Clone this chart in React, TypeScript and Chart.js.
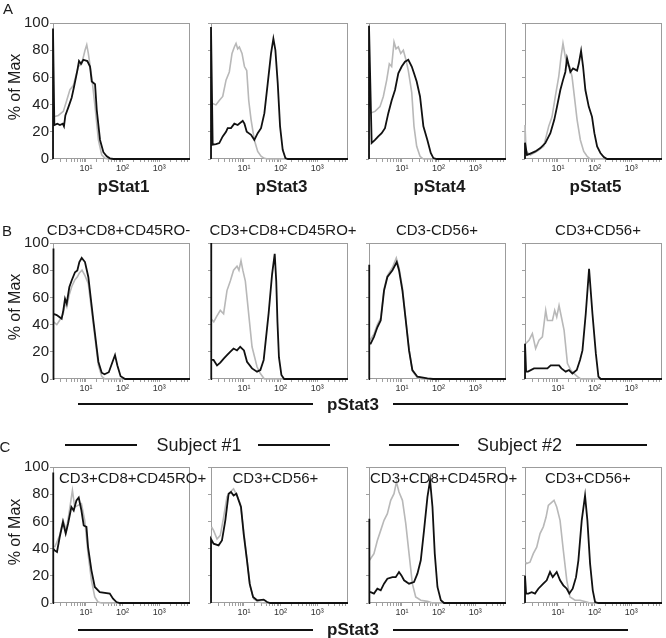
import React, { useEffect, useRef } from "react";
import { Chart, registerables } from "chart.js";
Chart.register(...registerables);

type Pt = [number, number];

const FONT = '"Liberation Sans", Arial, Helvetica, sans-serif';
Chart.defaults.font.family = FONT;

const X_MIN = 1.26;
const X_MAX = 6900;
const Y_TICKS = [0, 20, 40, 60, 80, 100];
const X_DECADE_TICKS = [10, 100, 1000];
const X_DECADE_LABELS = ["10¹", "10²", "10³"];
const X_MINOR_MULT = [1, 2, 3, 4, 5, 6, 7, 8, 9];
const X_MINOR_BASE = [1, 10, 100, 1000];

const ROW_A_TITLES = ["pStat1", "pStat3", "pStat4", "pStat5"];
const ROW_B_TITLES = ["CD3+CD8+CD45RO-", "CD3+CD8+CD45RO+", "CD3-CD56+", "CD3+CD56+"];
const ROW_C_TITLES = ["CD3+CD8+CD45RO+", "CD3+CD56+", "CD3+CD8+CD45RO+", "CD3+CD56+"];
const SUBJECTS = ["Subject #1", "Subject #2"];

// ---- Row A ----
const a1Black: Pt[] = [[1.26,0],[1.26,96],[1.37,25],[1.65,26],[1.95,25],[2.32,26],[2.51,24],[2.74,32],[3.3,38],[4.07,45],[4.72,53],[5.81,65],[6.46,72],[7.33,70],[8.47,73],[10.9,72],[12.9,68],[14.4,57],[17.7,55],[19.7,36],[24.2,14],[29.9,5],[36.9,2],[45,0.5],[56,0],[6900,0]];
const a1Gray: Pt[] = [[1.31,31],[1.76,32],[2.41,35],[2.98,43],[3.66,51],[4.52,54],[6.2,68],[7.65,70],[9.42,80],[10.5,84],[11.6,77.6],[14.4,60],[17.7,38.5],[21.8,14],[26.9,3],[33.2,0.5],[40,0],[6900,0]];

const a2Black: Pt[] = [[1.26,0],[1.26,97],[1.4,10.5],[1.72,11],[2.12,11.7],[2.63,16.6],[3.24,20],[3.6,22.7],[4.43,22.7],[5.46,26],[6.74,25],[9.25,28],[10.3,26],[11.9,20],[15.6,17.8],[19.2,14],[23.7,19],[29.2,22.7],[36.1,33.7],[44.5,55.6],[54.8,77.6],[63.5,88.5],[72,80],[83.5,55.6],[96.6,24],[114,6.8],[135,0.7],[157,0],[6900,0]];
const a2Gray: Pt[] = [[1.34,41],[1.72,39.8],[2.12,43],[2.63,46],[3.24,58],[3.98,64],[4.72,77.6],[5.46,82.4],[6.07,85],[6.74,81],[7.48,82.4],[8.85,77.6],[10.3,68],[11.9,65],[13.5,43],[15.6,29],[19.2,14],[23.7,5.6],[29.2,2],[36.1,0.5],[44.5,0],[6900,0]];

const a3Black: Pt[] = [[1.26,0],[1.26,98],[1.49,11.7],[1.84,14],[2.26,16.6],[2.79,19],[3.44,22.7],[4.24,33.7],[5.23,43],[6.46,50.7],[7.95,63],[9.84,68],[12.1,71.5],[14.9,73],[18.5,68],[21.3,63],[25.2,57],[31.1,46],[38.4,24],[49.3,14],[61,4.4],[72,0.7],[89,0],[6900,0]];
const a3Gray: Pt[] = [[1.34,33.7],[1.84,35],[2.51,38.5],[3.1,46],[3.83,58],[4.52,70],[5.23,68],[6.07,86],[6.88,81],[7.95,82.4],[9.25,77.6],[10.9,80],[12.9,72.7],[14.9,65],[18.5,48.8],[21.3,24],[25.2,9.3],[31.1,2],[38.4,0],[6900,0]];

const a4Black: Pt[] = [[1.26,0],[1.26,12],[1.43,3],[1.76,4],[2.41,5.6],[3.3,8],[4.52,11.7],[6.2,19],[7.95,29],[9.42,38.5],[11.6,50.7],[13.7,58],[15.9,64],[17.7,74],[19.7,69],[21.8,64],[25.8,66.6],[33.2,65],[36.9,70],[42.7,79.5],[48.4,68],[56,50.7],[69.2,38.5],[85,31],[98.6,19],[117,9.3],[144,4.4],[178,1.5],[219,0],[6900,0]];
const a4Gray: Pt[] = [[1.26,0],[1.26,25],[1.35,5.6],[1.76,3],[2.68,5.6],[4.07,9.3],[5.58,24],[6.88,31],[8.47,46],[10.5,60.5],[12.1,75],[13.7,85],[15.9,75],[17.7,69],[20.9,68],[24.2,60.5],[28,46],[33.2,29],[40.8,14],[50.5,5.6],[62.2,2],[76.6,0],[6900,0]];

// ---- Row B ----
const b1Black: Pt[] = [[1.26,0],[1.26,96],[1.34,48],[1.59,47],[1.88,45.6],[2.17,44.4],[2.41,50.5],[2.68,59],[2.98,55.4],[3.52,67.6],[4.07,72.4],[5.02,78.5],[5.81,79.8],[6.6,86],[7.65,89],[9.4,86],[11.6,75],[15.9,43],[21.8,12.7],[26.9,4.6],[32,3.5],[42,5],[52,12],[62,17.6],[72,10],[88,2],[117,0],[6900,0]];
const b1Gray: Pt[] = [[1.3,42],[1.6,40],[1.9,43],[2.4,48],[2.7,56],[3.0,53],[3.5,62],[4.1,68],[5.0,73],[5.8,75],[6.6,78],[7.8,80],[9.4,76],[11.6,70],[15.9,40],[21.8,10],[26.9,2],[33,0],[6900,0]];

const b2Black: Pt[] = [[1.26,0],[1.26,100],[1.3,14],[1.48,14],[1.84,10],[2.26,12],[2.8,15],[3.44,17.5],[4.2,20],[5.2,22.4],[6.46,21],[7.9,23.7],[10,21],[12.1,12.7],[16.6,7.8],[22.7,5.4],[28,6.6],[34.5,14],[47,48],[58.5,77],[69,92],[76,72],[82,42],[90,16],[105,3],[125,0],[6900,0]];
const b2Gray: Pt[] = [[1.3,44],[1.5,42],[1.8,46],[2.26,50.5],[2.78,48],[3.44,65],[4.24,72],[5.2,80],[6.46,83],[7.3,80],[8.3,87],[9.3,80],[10.9,72],[12.1,60],[16.6,23.7],[22.7,9],[28,4],[36,0],[6900,0]];

const b3Black: Pt[] = [[1.26,0],[1.26,84],[1.3,26],[1.4,26],[1.72,31],[2.13,38],[2.63,43],[3.24,65],[4.0,75],[5.5,80],[7.2,86],[8.3,80],[10.3,65],[12.7,43],[15.6,21],[19.2,6.6],[26.4,1.7],[49.6,0.5],[70,0],[6900,0]];
const b3Gray: Pt[] = [[1.3,28],[1.72,33],[2.13,40],[2.63,45],[3.24,66],[4.0,76],[5.5,82],[7.0,89],[8.3,82],[10.3,67],[12.7,44],[15.6,22],[19.2,6],[26,1],[35,0],[6900,0]];

const b4Black: Pt[] = [[1.26,0],[1.26,26],[1.35,5.4],[1.52,5.4],[2.22,7.8],[3.38,7.8],[5.15,7.8],[6.34,10],[10.7,10],[12.4,7.8],[16.3,5.4],[20,6.6],[24.8,4],[32.6,6.6],[40,14],[46.6,21],[57.3,48],[70.6,81],[87.3,48],[108,18.8],[127,1.7],[147,0],[6900,0]];
const b4Gray: Pt[] = [[1.31,26],[1.62,28.5],[2.0,33.4],[2.46,22.4],[3.04,28.5],[3.76,31],[4.63,50.5],[5.15,43],[7.06,43],[8.15,50.5],[9.25,45.6],[10.7,54],[12.4,45.6],[14.7,35.8],[18.1,11.5],[22.3,6.6],[27.5,4],[34,1.7],[41.9,0],[6900,0]];

// ---- Row C ----
const c1Black: Pt[] = [[1.26,0],[1.26,96],[1.3,40],[1.4,38.7],[1.62,37.5],[1.92,48.5],[2.36,59.6],[2.8,51],[3.24,58.3],[4.0,70.6],[4.63,68],[5.5,75.5],[6.34,77.5],[7.52,68],[8.68,57],[10.3,56],[11.4,41],[14.1,24],[17.4,11.8],[23.8,8],[44.6,6.9],[54.8,3.2],[68,0.7],[83.5,0],[6900,0]];
const c1Gray: Pt[] = [[1.4,41],[1.92,49.8],[2.36,60.8],[2.92,53.4],[3.6,69.4],[4.27,82.8],[4.93,70.6],[6.07,71.8],[7.52,73],[9.25,60.8],[11.4,36.3],[14.1,16.7],[17.4,4.4],[21.3,0.7],[26.4,0],[6900,0]];

const c2Black: Pt[] = [[1.26,0],[1.26,47],[1.48,43.6],[2.03,42.4],[2.51,46],[3.1,60.8],[3.81,80.4],[4.43,81.6],[5.2,79],[6.2,80.4],[7.14,75.5],[8.3,70.6],[9.8,51],[12.1,31.4],[14.3,14.2],[17.7,4.4],[22.7,2],[34.5,2.5],[42.7,0.7],[52,0],[6900,0]];
const c2Gray: Pt[] = [[1.3,56],[1.48,53.4],[1.84,47],[2.26,49.8],[2.78,63],[3.44,78],[4.24,81.6],[5.2,84],[6.46,79],[7.95,73],[9.8,53.4],[12.1,31.4],[14.9,11.8],[18.3,3.2],[25,0.7],[34.5,0],[6900,0]];

const c3Black: Pt[] = [[1.26,0],[1.26,62],[1.32,8],[1.4,8],[1.72,6.9],[2.13,10.5],[2.63,9.3],[3.24,14.2],[4.0,17.9],[5.5,19],[6.74,19],[8.3,22.8],[9.66,20.3],[11.4,16.7],[15.6,14.2],[21.3,15.4],[26.4,21.6],[32.6,31.4],[40,53.4],[49.6,78],[58.5,90.2],[68,70.6],[78.5,36.3],[93,11.8],[115,2],[141,0],[6900,0]];
const c3Gray: Pt[] = [[1.3,31.4],[1.72,36.3],[2.13,46],[2.63,53.4],[3.24,60.8],[4.0,65.7],[4.93,75.5],[6.07,80.4],[7.06,89],[8.3,81.6],[10.3,75.5],[12.7,58.3],[15.6,36.3],[19.2,14.2],[23.7,4.4],[32.6,2],[49.6,1.2],[68,0],[6900,0]];

const c4Black: Pt[] = [[1.26,0],[1.26,20],[1.35,6.9],[1.55,6.9],[1.92,8],[2.36,6.9],[2.91,10.5],[3.98,14.2],[4.93,16.7],[6.07,22.8],[7.2,19],[9.25,22.8],[11.4,16.7],[14,13],[17.4,10.5],[20.4,6.9],[25.2,10.5],[31.1,19],[36.1,31.4],[44.5,60.8],[54.8,79],[63.5,60.8],[75.2,29],[89,9.3],[103,0.7],[127,0],[6900,0]];
const c4Gray: Pt[] = [[1.3,30],[1.4,29],[1.72,30],[2.12,36.3],[2.63,41],[3.24,51],[3.98,56],[4.72,63],[5.46,71.8],[6.74,74],[7.8,75.5],[9.25,70.6],[11.4,60.8],[14,38.7],[17.4,16.7],[21.3,4.4],[29.2,2],[40,2],[61,0.7],[75,0],[6900,0]];

const SERIES: [Pt[], Pt[]][][] = [
  [[a1Black, a1Gray], [a2Black, a2Gray], [a3Black, a3Gray], [a4Black, a4Gray]],
  [[b1Black, b1Gray], [b2Black, b2Gray], [b3Black, b3Gray], [b4Black, b4Gray]],
  [[c1Black, c1Gray], [c2Black, c2Gray], [c3Black, c3Gray], [c4Black, c4Gray]],
];

// ---- layout ----
const COLS = [53, 211, 369, 525];
const ROWS = [23, 243, 467];
const BOX_W = 137;
const BOX_H = 136;
const PAD_TOP = 10;
const PAD_RIGHT = 3;
const X_AXIS_H = 18;

const X_TICK_VALUES: number[] = [];
X_MINOR_BASE.forEach((b) => X_MINOR_MULT.forEach((m) => {
  const v = b * m;
  if (v > X_MIN && v < X_MAX) X_TICK_VALUES.push(v);
}));

const framePlugin = {
  id: "frame",
  beforeDatasetsDraw(chart: any) {
    const { ctx, chartArea: a } = chart;
    ctx.save();
    ctx.strokeStyle = "#9c9c9c";
    ctx.lineWidth = 1;
    ctx.strokeRect(Math.round(a.left) + 0.5, Math.round(a.top) + 0.5, Math.round(a.right - a.left) - 1, Math.round(a.bottom - a.top) - 1);
    ctx.restore();
  },
};

function Panel({ row, col }: { row: number; col: number }) {
  const ref = useRef<HTMLCanvasElement | null>(null);
  const yw = col === 0 ? 45 : 10;
  const W = yw + BOX_W + PAD_RIGHT;
  const H = PAD_TOP + BOX_H + X_AXIS_H;
  useEffect(() => {
    const [black, gray] = SERIES[row][col];
    const chart = new Chart(ref.current as HTMLCanvasElement, {
      type: "line",
      data: {
        datasets: [
          { data: black.map(([x, y]) => ({ x, y })), borderColor: "#111111", borderWidth: 1.8, pointRadius: 0, tension: 0, order: 0, clip: false } as any,
          { data: gray.map(([x, y]) => ({ x, y })), borderColor: "#b8b8b8", borderWidth: 1.6, pointRadius: 0, tension: 0, order: 1, clip: false } as any,
        ],
      },
      options: {
        animation: false,
        responsive: false,
        events: [],
        layout: { padding: { top: PAD_TOP, right: PAD_RIGHT, left: 0, bottom: 0 } },
        plugins: { legend: { display: false }, tooltip: { enabled: false } },
        scales: {
          x: {
            type: "logarithmic",
            min: X_MIN,
            max: X_MAX,
            afterBuildTicks: (s: any) => { s.ticks = X_TICK_VALUES.map((v) => ({ value: v })); },
            afterFit: (s: any) => { s.height = X_AXIS_H; },
            ticks: {
              autoSkip: false, maxRotation: 0, minRotation: 0, padding: 1,
              font: { size: 9, family: FONT }, color: "#333",
              callback: (v: any) => { const i = X_DECADE_TICKS.indexOf(Number(v)); return i >= 0 ? X_DECADE_LABELS[i] : ""; },
            },
            grid: { drawOnChartArea: false, drawTicks: true, tickLength: 3, color: "#a0a0a0" },
            border: { display: false },
          },
          y: {
            min: 0,
            max: 100,
            afterBuildTicks: (s: any) => { s.ticks = Y_TICKS.map((v) => ({ value: v })); },
            afterFit: (s: any) => { s.width = yw; },
            ticks: {
              padding: 1, font: { size: 15, family: FONT }, color: "#222",
              callback: (v: any) => (col === 0 ? String(v) : ""),
            },
            grid: { drawOnChartArea: false, drawTicks: true, tickLength: 3, color: "#a0a0a0" },
            border: { display: false },
          },
        },
      } as any,
      plugins: [framePlugin],
    });
    return () => chart.destroy();
  }, [row, col]);
  return (
    <canvas
      ref={ref}
      width={W}
      height={H}
      style={{ position: "absolute", left: COLS[col] - yw, top: ROWS[row] - PAD_TOP, width: W, height: H }}
    />
  );
}

function T({ x, y, text, size, bold, left }: { x: number; y: number; text: string; size: number; bold?: boolean; left?: boolean }) {
  return (
    <div
      style={{
        position: "absolute", left: x, top: y, transform: left ? "translate(0,-50%)" : "translate(-50%,-50%)",
        fontFamily: FONT, fontSize: size, fontWeight: bold ? "bold" : "normal", lineHeight: 1, whiteSpace: "nowrap", color: "#1a1a1a",
      }}
    >
      {text}
    </div>
  );
}

function HLine({ x1, x2, y }: { x1: number; x2: number; y: number }) {
  return <div style={{ position: "absolute", left: x1, top: y - 1, width: x2 - x1, height: 2, background: "#111" }} />;
}

function YTitle({ y }: { y: number }) {
  return (
    <div
      style={{
        position: "absolute", left: 15, top: y, transform: "translate(-50%,-50%) rotate(-90deg)",
        fontFamily: FONT, fontSize: 16, lineHeight: 1, whiteSpace: "nowrap", color: "#1a1a1a",
      }}
    >
      % of Max
    </div>
  );
}

export default function App() {
  const panels: JSX.Element[] = [];
  for (let r = 0; r < 3; r++) for (let c = 0; c < 4; c++) panels.push(<Panel key={`${r}-${c}`} row={r} col={c} />);
  const centers = COLS.map((c) => c + BOX_W / 2);
  return (
    <div style={{ position: "absolute", left: 0, top: 0, width: 666, height: 638, background: "#fff", overflow: "hidden" }}>
      {panels}
      <T x={8} y={8} text="A" size={15} />
      <T x={7} y={230} text="B" size={15} />
      <T x={5} y={446} text="C" size={15} />
      <YTitle y={87} />
      <YTitle y={307} />
      <YTitle y={532} />
      {ROW_A_TITLES.map((t, i) => <T key={"a" + i} x={centers[i] + 2} y={186} text={t} size={17} bold />)}
      {ROW_B_TITLES.map((t, i) => <T key={"b" + i} x={[118.5, 283, 437, 598][i]} y={229} text={t} size={15} />)}
      {ROW_C_TITLES.map((t, i) => <T key={"c" + i} x={[59, 232.5, 370, 545][i]} y={477} text={t} size={15} left />)}
      <HLine x1={78} x2={313} y={404} />
      <HLine x1={393} x2={628} y={404} />
      <T x={353} y={404} text="pStat3" size={17} bold />
      <HLine x1={65} x2={137} y={445} />
      <HLine x1={258} x2={330} y={445} />
      <T x={199} y={445} text={SUBJECTS[0]} size={18} />
      <HLine x1={389} x2={459} y={445} />
      <HLine x1={576} x2={647} y={445} />
      <T x={519.5} y={445} text={SUBJECTS[1]} size={18} />
      <HLine x1={78} x2={313} y={630} />
      <HLine x1={393} x2={628} y={630} />
      <T x={353} y={629} text="pStat3" size={17} bold />
    </div>
  );
}
